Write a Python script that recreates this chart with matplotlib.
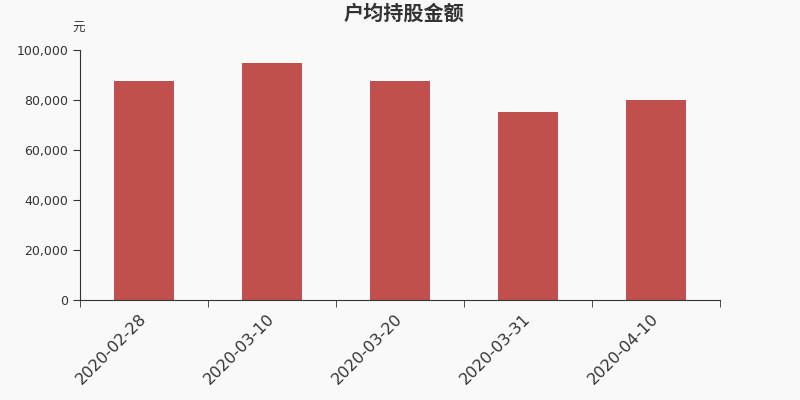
import matplotlib as mpl
mpl.use('Agg')
import matplotlib.pyplot as plt
from matplotlib.ticker import FuncFormatter

plt.rcParams['font.family'] = ['DejaVu Sans', 'Noto Sans CJK SC']

dates = ['2020-02-28', '2020-03-10', '2020-03-20', '2020-03-31', '2020-04-10']
amount = [87600, 94700, 87700, 75100, 80000]

bg = '#f9f9f9'
txt = '#333333'

fig = plt.figure(figsize=(8, 4), dpi=100, facecolor=bg)
ax = fig.add_axes([0.1, 0.25, 0.8, 0.625], facecolor=bg)

x = list(range(len(dates)))
ax.bar(x, amount, width=0.47, color='#c0504d', zorder=2)

ax.set_xlim(-0.5, len(dates) - 0.5)
ax.set_ylim(0, 100000)
ax.set_yticks([0, 20000, 40000, 60000, 80000, 100000])
ax.yaxis.set_major_formatter(FuncFormatter(lambda v, p: '{:,.0f}'.format(v)))

ax.set_xticks(x)
ax.set_xticklabels(dates, rotation=45, ha='right', va='center',
                   rotation_mode='anchor', fontsize=11.5, color=txt)
ax.set_xticks([i - 0.5 for i in range(len(dates) + 1)], minor=True)
ax.tick_params(axis='x', which='major', length=0, pad=12)
ax.tick_params(axis='x', which='minor', length=5, color=txt, direction='out')
ax.tick_params(axis='y', labelsize=9, labelcolor=txt, length=5, color=txt)

for s in ['top', 'right']:
    ax.spines[s].set_visible(False)
for s in ['left', 'bottom']:
    ax.spines[s].set_color(txt)

fig.text(404 / 800, 1 - 13 / 400, '户均持股金额', ha='center', va='center',
         fontsize=14.5, fontweight='bold', color=txt,
         family=['Noto Sans CJK SC', 'DejaVu Sans'])
fig.text(79 / 800, 1 - 28 / 400, '元', ha='center', va='center',
         fontsize=9, color=txt, family=['Noto Sans CJK SC', 'DejaVu Sans'])

plt.savefig('out.png', dpi=100, facecolor=bg)
